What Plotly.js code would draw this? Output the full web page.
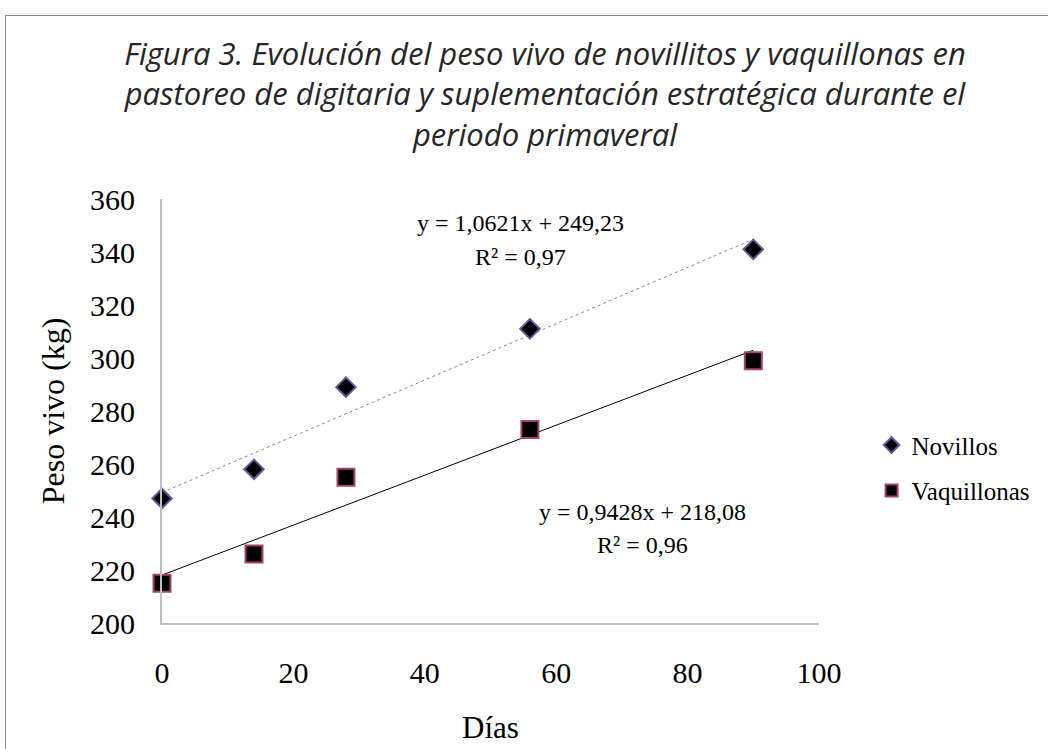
<!DOCTYPE html>
<html><head><meta charset="utf-8">
<script src="https://cdn.plot.ly/plotly-3.0.1.min.js"></script>
<style>
html,body{margin:0;padding:0;background:#fff;}
#wrap{position:relative;width:1048px;height:749px;}
#chart{width:1048px;height:749px;}
#frame{position:absolute;left:5px;top:15px;width:1060px;height:760px;border:1px solid #8c8c8c;pointer-events:none;}
</style></head>
<body>
<div id="wrap"><div id="chart"></div><div id="frame"></div></div>
<script>
const dias = [0, 14, 28, 56, 90];
const novillos = [247, 258, 289, 311, 341];
const vaquillonas = [215, 226, 255, 273, 299];
const trendSlope = [1.0621, 0.9428];
const trendIntercept = [249.23, 218.08];
const trendR2 = ["0,97", "0,96"];
const seriesNames = ["Novillos", "Vaquillonas"];
const trendRange = [0, 90];
const titleLines = [
  "Figura 3. Evolución del peso vivo de novillitos y vaquillonas en",
  "pastoreo de digitaria y suplementación estratégica durante el",
  "periodo primaveral"
];

const serif = "Liberation Serif, Times New Roman, serif";
function line(i){ return trendRange.map(x => trendIntercept[i] + trendSlope[i]*x); }
function fmt(v, d){ return v.toFixed(d).replace('.', ','); }

const data = [
  {x: trendRange, y: line(0), mode:'lines', line:{color:'#8a8a8a', width:1, dash:'dot'}, showlegend:false, hoverinfo:'skip'},
  {x: trendRange, y: line(1), mode:'lines', line:{color:'#000', width:1}, showlegend:false, hoverinfo:'skip'},
  {x: dias, y: novillos, name: seriesNames[0], legendgroup:'a', mode:'markers', type:'scatter', cliponaxis:false,
   marker:{symbol:'diamond', size:15, color:'#000', line:{color:'#5c5c99', width:2}}},
  {x: dias, y: vaquillonas, name: seriesNames[1], legendgroup:'b', mode:'markers', type:'scatter', cliponaxis:false,
   marker:{symbol:'square', size:17, color:'#000', line:{color:'#a3436e', width:2}}}
];

const annFont = {family:serif, size:24, color:'#000'};

const layout = {
  width:1048, height:749,
  paper_bgcolor:'#fff', plot_bgcolor:'#fff',
  margin:{l:162, r:227, t:199, b:126},
  title:{text: titleLines.join('<br>'),
    font:{family:'Open Sans, sans-serif', size:31, color:'#262626', style:'italic'},
    xref:'container', x:0.52, xanchor:'center', yref:'container', y:0.913, yanchor:'top'},
  xaxis:{range:[0,100], dtick:20, tick0:0, showgrid:false, zeroline:false,
    showline:true, linecolor:'#bfbfbf', linewidth:2, ticks:'',
    ticklabelstandoff:22,
    tickfont:{family:serif, size:30, color:'#000'},
    title:{text:'Días', font:{family:serif, size:31, color:'#000'}, standoff:28}},
  yaxis:{range:[200,360], dtick:20, tick0:200, showgrid:false, zeroline:false,
    showline:true, linecolor:'#bfbfbf', linewidth:2, ticks:'',
    ticklabelstandoff:19,
    tickfont:{family:serif, size:30, color:'#000'},
    title:{text:'Peso vivo (kg)', font:{family:serif, size:32, color:'#000'}, standoff:16}},
  legend:{x:1.08, xanchor:'left', y:0.366, yanchor:'middle', traceorder:'grouped',
    font:{family:serif, size:25, color:'#000'}, tracegroupgap:10, itemsizing:'constant'},
  annotations:[
    {xref:'x', yref:'y', x:54.5, y:351, text:'y = '+fmt(trendSlope[0],4)+'x + '+fmt(trendIntercept[0],2), showarrow:false, font:annFont},
    {xref:'x', yref:'y', x:54.6, y:338.1, text:'R² = '+trendR2[0], showarrow:false, font:annFont},
    {xref:'x', yref:'y', x:73.1, y:241.9, text:'y = '+fmt(trendSlope[1],4)+'x + '+fmt(trendIntercept[1],2), showarrow:false, font:annFont},
    {xref:'x', yref:'y', x:73.1, y:229.4, text:'R² = '+trendR2[1], showarrow:false, font:annFont}
  ]
};
Plotly.newPlot('chart', data, layout, {displayModeBar:false, staticPlot:true});
</script>
</body></html>
